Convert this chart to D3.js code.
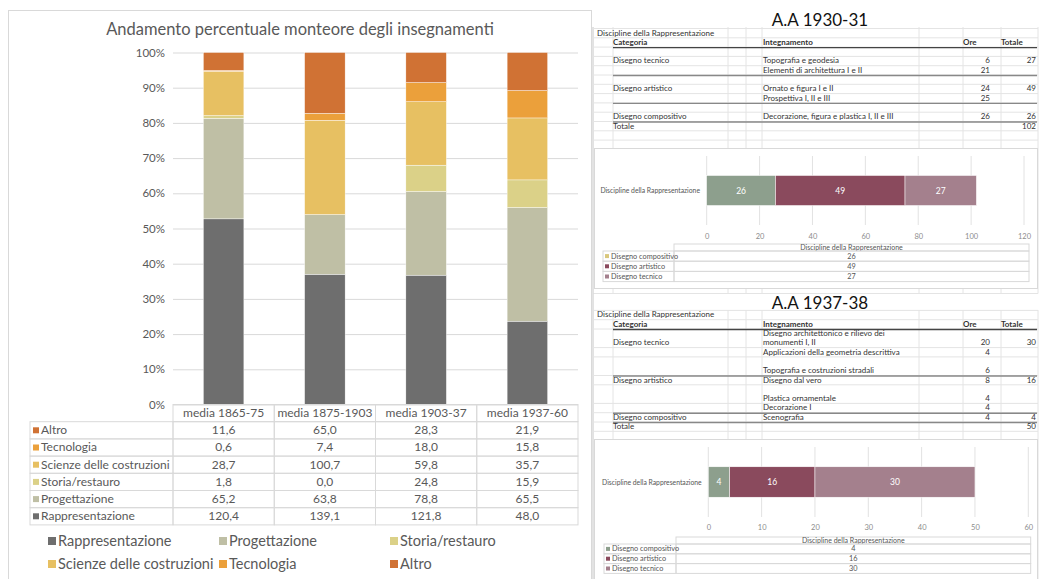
<!DOCTYPE html>
<html>
<head>
<meta charset="UTF-8">
<title>Andamento percentuale monteore degli insegnamenti</title>
<script src="https://cdn.jsdelivr.net/npm/d3@7"></script>
<style>
body{margin:0;background:#fff;}
svg text{font-family:Lato,"Open Sans",sans-serif;}
</style>
</head>
<body>
<div id="chart"></div>
<script>
// ---- dati grafico a sinistra ----
var periodi=["media 1865-75","media 1875-1903","media 1903-37","media 1937-60"];
var serie=["Rappresentazione","Progettazione","Storia/restauro","Scienze delle costruzioni","Tecnologia","Altro"];
var rappresentazione=[120.4,139.1,121.8,48.0];
var progettazione=[65.2,63.8,78.8,65.5];
var storia=[1.8,0.0,24.8,15.9];
var scienze=[28.7,100.7,59.8,35.7];
var tecnologia=[0.6,7.4,18.0,15.8];
var altro=[11.6,65.0,28.3,21.9];
var percTicks=[0,0.1,0.2,0.3,0.4,0.5,0.6,0.7,0.8,0.9,1];
var colori=["#6e6e6e","#bfbfa5","#dbd188","#e7c062","#eba03b","#d07234"];

// ---- dati tabelle a destra: [categoria, insegnamento, ore, totale, tipo, altezza] ----
var righe1930=[
	["Discipline della Rappresentazione","","","","sez",1],
	["Categoria","Integnamento","Ore","Totale","head",1],
	["","","","","",1],
	["Disegno tecnico","Topografia e geodesia","6","27","",1],
	["","Elementi di architettura I e II","21","","fine",1],
	["","","","","",1],
	["Disegno artistico","Ornato e figura I e II","24","49","",1],
	["","Prospettiva I, II e III","25","","fine",1],
	["","","","","",1],
	["Disegno compositivo","Decorazione, figura e plastica I, II e III","26","26","fine",1],
	["Totale","","","102","",1],
	["","","","","",1],
	["","","","","",1]
];
var righe1937=[
	["Discipline della Rappresentazione","","","","sez",1],
	["Categoria","Integnamento","Ore","Totale","head",1],
	["Disegno tecnico","Disegno architettonico e rilievo dei|monumenti I, II","20","30","",2],
	["","Applicazioni della geometria descrittiva","4","","",1],
	["","Topografia e costruzioni stradali","6","","fine",2],
	["Disegno artistico","Disegno dal vero","8","16","",1],
	["","Plastica ornamentale","4","","",2],
	["","Decorazione I","4","","fine",1],
	["Disegno compositivo","Scenografia","4","4","fine",1],
	["Totale","","","50","",1],
	["","","","","",1]
];
// ---- dati barre orizzontali ----
var voci=["Disegno compositivo","Disegno artistico","Disegno tecnico"];
var ore1930=[26,49,27];
var ore1937=[4,16,30];
var ticks1930=[0,20,40,60,80,100,120];
var ticks1937=[0,10,20,30,40,50,60];
var coloriVoci=["#8d9f8d","#8a4a5d","#a4808d"];
var legenda1930=["#d9c77c","#8a4a5d","#a4808d"];
var legenda1937=["#8d9f8d","#8a4a5d","#a4808d"];

var width=1039,height=579;
var svg=d3.select("#chart").append("svg")
	.attr("width",width).attr("height",height);
svg.append("rect").attr("width",width).attr("height",height).attr("fill","#fff");

var fmt=d3.formatLocale({decimal:",",thousands:".",grouping:[3],currency:["","€"]}).format(".1f");
var testo="#595959";

// ================= grafico a sinistra =================
svg.append("rect").attr("x",8.5).attr("y",10.5).attr("width",583).attr("height",580)
	.attr("fill","#fff").attr("stroke","#d9d9d9");

svg.append("text").attr("x",300).attr("y",35).attr("text-anchor","middle")
	.attr("font-size",16.5).attr("fill",testo)
	.text("Andamento percentuale monteore degli insegnamenti");

var plot={left:173,right:578,top:52.5,bottom:404.5};
var xScale=d3.scaleBand().domain(periodi).range([plot.left,plot.right])
	.paddingInner(0.6).paddingOuter(0.3);
var yScale=d3.scaleLinear().domain([0,1]).range([plot.bottom,plot.top]);

var yAxis=d3.axisLeft(yScale).tickValues(percTicks)
	.tickFormat(d3.format(".0%"))
	.tickSize(-(plot.right-plot.left)).tickPadding(8);
var gy=svg.append("g").attr("transform","translate("+plot.left+",0)").call(yAxis);
gy.select(".domain").remove();
gy.selectAll("line").attr("stroke","#d9d9d9");
gy.selectAll("text").attr("fill",testo).attr("font-size",11.5)
	.style("font-family","Lato,sans-serif");

var valoriSerie=[rappresentazione,progettazione,storia,scienze,tecnologia,altro];
var righe=periodi.map(function(p,i){
	var o={periodo:p};
	serie.forEach(function(s,j){o[s]=valoriSerie[j][i];});
	return o;
});
var stack=d3.stack().keys(serie).offset(d3.stackOffsetExpand)(righe);

svg.append("g").selectAll("g").data(stack).enter().append("g")
	.attr("fill",function(d,i){return colori[i];})
	.selectAll("rect").data(function(d){return d;}).enter().append("rect")
	.attr("x",function(d){return xScale(d.data.periodo);})
	.attr("width",xScale.bandwidth())
	.attr("y",function(d){return yScale(d[1]);})
	.attr("height",function(d){return yScale(d[0])-yScale(d[1]);})
	.attr("stroke","#fff").attr("stroke-width",0.4);

// tabella dati sotto il grafico
var rowH=17.2;
var tabLeft=30;
var ordine=serie.slice().reverse();
var tab=svg.append("g");
// intestazione
tab.selectAll(".hcell").data(periodi).enter().append("rect")
	.attr("x",function(p){return xScale(p)-(xScale.step()-xScale.bandwidth())/2;})
	.attr("y",plot.bottom).attr("width",xScale.step()).attr("height",rowH)
	.attr("fill","none").attr("stroke","#d9d9d9");
tab.selectAll(".htext").data(periodi).enter().append("text")
	.attr("x",function(p){return xScale(p)+xScale.bandwidth()/2;})
	.attr("y",plot.bottom+rowH/2+4).attr("text-anchor","middle")
	.attr("font-size",12).attr("fill",testo).text(function(p){return p;});
// righe
var gr=tab.selectAll(".riga").data(ordine).enter().append("g")
	.attr("transform",function(d,i){return "translate(0,"+(plot.bottom+rowH*(i+1))+")";});
gr.append("rect").attr("x",tabLeft).attr("width",plot.left-tabLeft).attr("height",rowH)
	.attr("fill","none").attr("stroke","#d9d9d9");
gr.append("rect").attr("x",tabLeft+3).attr("y",rowH/2-3).attr("width",6).attr("height",6)
	.attr("fill",function(s){return colori[serie.indexOf(s)];});
gr.append("text").attr("x",tabLeft+11).attr("y",rowH/2+4)
	.attr("font-size",12).attr("fill",testo).text(function(s){return s;});
gr.each(function(s){
	var vals=valoriSerie[serie.indexOf(s)];
	var g=d3.select(this);
	g.selectAll("rect.c").data(periodi).enter().append("rect").attr("class","c")
		.attr("x",function(p){return xScale(p)-(xScale.step()-xScale.bandwidth())/2;})
		.attr("width",xScale.step()).attr("height",rowH)
		.attr("fill","none").attr("stroke","#d9d9d9");
	g.selectAll("text.v").data(periodi).enter().append("text").attr("class","v")
		.attr("x",function(p){return xScale(p)+xScale.bandwidth()/2;})
		.attr("y",rowH/2+4).attr("text-anchor","middle")
		.attr("font-size",12).attr("fill",testo)
		.text(function(p,i){return fmt(vals[i]);});
});

// legenda
var legX=[48,219,390],legY=[542,565];
var leg=svg.append("g").selectAll("g").data(serie).enter().append("g")
	.attr("transform",function(d,i){return "translate("+legX[i%3]+","+legY[Math.floor(i/3)]+")";});
leg.append("rect").attr("y",-5).attr("width",8).attr("height",8)
	.attr("fill",function(d,i){return colori[i];});
leg.append("text").attr("x",10).attr("y",4).attr("font-size",14.5).attr("fill",testo)
	.text(function(d){return d;});

// ================= parte destra (foglio di calcolo) =================
var colonne=[593,613,728,746,762,919,963,1001,1038];
var grid=svg.append("g");
grid.selectAll("line.v").data(colonne).enter().append("line")
	.attr("x1",function(d){return d;}).attr("x2",function(d){return d;})
	.attr("y1",27).attr("y2",height).attr("stroke","#e4e4e4");
// fascia titolo seconda tabella
svg.append("rect").attr("x",594).attr("y",293.5).attr("width",445).attr("height",16.5)
	.attr("fill","#fff");
svg.append("line").attr("x1",593).attr("x2",1038).attr("y1",293.5).attr("y2",293.5).attr("stroke","#e4e4e4");
svg.append("line").attr("x1",593).attr("x2",593).attr("y1",27).attr("y2",height).attr("stroke","#d4d4d4");

var colX={sez:597,cat:613,ins:763,oreH:963,oreR:990,totH:1001,totR:1036};
var unita=9.3;

function tabella(righe,titolo,y0,titoloY){
	var cum=[0];
	righe.forEach(function(r){cum.push(cum[cum.length-1]+r[5]);});
	var ry=d3.scaleLinear().domain([0,1]).range([y0,y0+unita]);
	var g=svg.append("g");
	// linee di griglia
	g.selectAll("line.h").data(cum).enter().append("line")
		.attr("x1",593).attr("x2",1038)
		.attr("y1",function(c){return ry(c);}).attr("y2",function(c){return ry(c);})
		.attr("stroke","#e4e4e4");
	svg.append("text").attr("x",820).attr("y",titoloY).attr("text-anchor","middle")
		.attr("font-size",17).attr("fill","#111").text(titolo);
	righe.forEach(function(r,i){
		var bottom=ry(cum[i+1]);
		var base=bottom-2.3;
		var bold=r[4]=="head";
		if(r[4]=="sez"){
			g.append("text").attr("x",colX.sez).attr("y",base).attr("font-size",8)
				.attr("fill","#333").text(r[0]);
		} else {
			g.append("text").attr("x",colX.cat).attr("y",base).attr("font-size",8)
				.attr("font-weight",bold?"bold":"normal").attr("fill","#333").text(r[0]);
			var linee=r[1].split("|");
			linee.forEach(function(t,k){
				g.append("text").attr("x",colX.ins).attr("y",base-unita*(linee.length-1-k))
					.attr("font-size",8).attr("font-weight",bold?"bold":"normal")
					.attr("fill","#333").text(t);
			});
			g.append("text").attr("x",bold?colX.oreH:colX.oreR).attr("y",base)
				.attr("text-anchor",bold?"start":"end").attr("font-size",8)
				.attr("font-weight",bold?"bold":"normal").attr("fill","#333").text(r[2]);
			g.append("text").attr("x",bold?colX.totH:colX.totR).attr("y",base)
				.attr("text-anchor",bold?"start":"end").attr("font-size",8)
				.attr("font-weight",bold?"bold":"normal").attr("fill","#333").text(r[3]);
		}
		if(r[4]=="head"||r[4]=="fine"){
			g.append("line").attr("x1",613).attr("x2",1037)
				.attr("y1",bottom+0.5).attr("y2",bottom+0.5)
				.attr("stroke",r[4]=="head"?"#444":"#888").attr("stroke-width",1.4);
		}
	});
}
tabella(righe1930,"A.A 1930-31",28.5,26);
tabella(righe1937,"A.A 1937-38",310.4,308.5);

function barre(valori,ticks,legCol,c){
	svg.append("rect").attr("x",594.5).attr("y",c.boxY).attr("width",443).attr("height",c.boxH)
		.attr("fill","#fff").attr("stroke","#d9d9d9");
	var x=d3.scaleLinear().domain([ticks[0],ticks[ticks.length-1]]).range([c.x0,c.x1]);
	var y=d3.scaleBand().domain(["Discipline della Rappresentazione"])
		.range([c.gy0,c.gy1]).paddingOuter(0.65);
	var g=svg.append("g");
	g.selectAll("line.g").data(ticks).enter().append("line")
		.attr("x1",function(t){return x(t);}).attr("x2",function(t){return x(t);})
		.attr("y1",c.gy0).attr("y2",c.gy1).attr("stroke","#e2e2e2");
	var ax=d3.axisBottom(x).tickValues(ticks).tickSize(0).tickPadding(0);
	var ga=g.append("g").attr("transform","translate(0,"+(c.ty-3)+")").call(ax);
	ga.select(".domain").remove();
	ga.selectAll("text").attr("fill","#8c8c8c").attr("font-size",7.5)
		.style("font-family","Lato,sans-serif");
	g.append("text").attr("x",c.lx).attr("y",y("Discipline della Rappresentazione")+y.bandwidth()/2+2.5)
		.attr("text-anchor","end").attr("font-size",6.8).attr("fill","#555")
		.text("Discipline della Rappresentazione");
	var acc=d3.cumsum(valori);
	var seg=valori.map(function(v,i){return {v:v,a:acc[i]-v,b:acc[i],i:i};});
	g.selectAll("rect.b").data(seg).enter().append("rect")
		.attr("x",function(d){return x(d.a);}).attr("width",function(d){return x(d.b)-x(d.a);})
		.attr("y",y("Discipline della Rappresentazione")).attr("height",y.bandwidth())
		.attr("fill",function(d){return coloriVoci[d.i];})
		.attr("stroke","#fff").attr("stroke-width",0.5);
	g.selectAll("text.b").data(seg).enter().append("text")
		.attr("x",function(d){return (x(d.a)+x(d.b))/2;})
		.attr("y",y("Discipline della Rappresentazione")+y.bandwidth()/2+3)
		.attr("text-anchor","middle").attr("font-size",8.5).attr("fill","#fff")
		.text(function(d){return d.v;});
	// tabella dati
	g.append("rect").attr("x",c.split).attr("y",c.hy).attr("width",c.right-c.split).attr("height",c.hh)
		.attr("fill","none").attr("stroke","#d9d9d9");
	g.append("text").attr("x",(c.split+c.right)/2).attr("y",c.hy+c.hh-1.3)
		.attr("text-anchor","middle").attr("font-size",7).attr("fill","#555")
		.text("Discipline della Rappresentazione");
	var rr=g.selectAll("g.r").data(voci).enter().append("g")
		.attr("transform",function(d,i){return "translate(0,"+(c.hy+c.hh+c.rh*i)+")";});
	rr.append("rect").attr("x",c.left).attr("width",c.split-c.left).attr("height",c.rh)
		.attr("fill","none").attr("stroke","#d9d9d9");
	rr.append("rect").attr("x",c.split).attr("width",c.right-c.split).attr("height",c.rh)
		.attr("fill","none").attr("stroke","#d9d9d9");
	rr.append("rect").attr("x",c.left+2).attr("y",c.rh/2-2).attr("width",4).attr("height",4)
		.attr("fill",function(d,i){return legCol[i];});
	rr.append("text").attr("x",c.left+8).attr("y",c.rh/2+2.5).attr("font-size",7.3)
		.attr("fill","#555").text(function(d){return d;});
	rr.append("text").attr("x",(c.split+c.right)/2).attr("y",c.rh/2+2.5)
		.attr("text-anchor","middle").attr("font-size",7.3).attr("fill","#555")
		.text(function(d,i){return valori[i];});
}
barre(ore1930,ticks1930,legenda1930,{boxY:148.5,boxH:140,x0:706.7,x1:1024,gy0:156,gy1:225,
	ty:237,lx:700,hy:244,hh:7,rh:10.2,left:603,split:674,right:1029});
barre(ore1937,ticks1937,legenda1937,{boxY:439.5,boxH:145,x0:708.3,x1:1028.3,gy0:447,gy1:517,
	ty:528,lx:701.7,hy:537,hh:7,rh:9.8,left:604,split:676,right:1030.7});
</script>
</body>
</html>
